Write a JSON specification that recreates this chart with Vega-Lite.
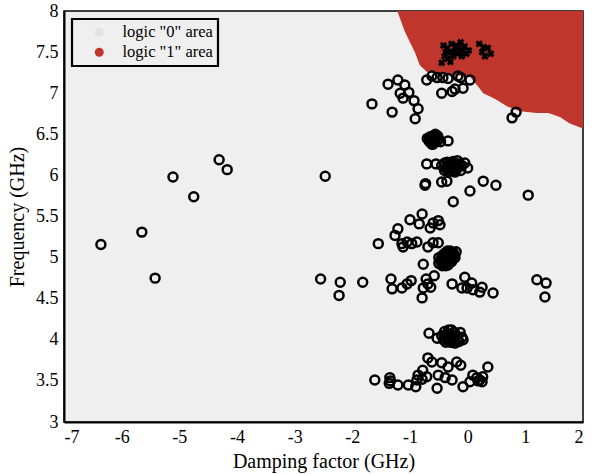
{
  "$schema": "https://vega.github.io/schema/vega-lite/v6.json",
  "autosize": {"type": "none"},
  "padding": {"left": 64, "top": 11, "right": 10, "bottom": 52},
  "width": 519,
  "height": 411,
  "background": "white",
  "config": {
    "font": "Liberation Serif",
    "view": {"fill": "#efefef", "stroke": "black", "strokeWidth": 1.5},
    "axis": {"labelFont": "Liberation Serif", "titleFont": "Liberation Serif", "labelFontSize": 18, "titleFontSize": 20, "titleFontWeight": "normal", "labelColor": "black", "titleColor": "black", "domainColor": "black", "domainWidth": 2, "ticks": false, "grid": false, "labelPadding": 6},
    "legend": {"labelFont": "Liberation Serif", "labelFontSize": 16.5, "labelColor": "black", "strokeWidth": 2.2}
  },
  "datasets": {
    "reg": [
      {"x": -1.22, "y": 8.0}, {"x": -1.09, "y": 7.75}, {"x": -0.91, "y": 7.49}, {"x": -0.83, "y": 7.34},
      {"x": -0.71, "y": 7.26}, {"x": 0.04, "y": 7.2}, {"x": 0.18, "y": 7.08}, {"x": 0.27, "y": 7.0},
      {"x": 0.39, "y": 6.96}, {"x": 0.5, "y": 6.92}, {"x": 0.68, "y": 6.84}, {"x": 0.91, "y": 6.78},
      {"x": 1.2, "y": 6.76}, {"x": 1.4, "y": 6.76}, {"x": 1.6, "y": 6.71}, {"x": 1.77, "y": 6.63}, {"x": 2.0, "y": 6.57}
    ],
    "pts": [
      {"x": -6.36, "y": 5.16}, {"x": -5.65, "y": 5.31}, {"x": -5.42, "y": 4.75}, {"x": -5.11, "y": 5.98},
      {"x": -4.75, "y": 5.74}, {"x": -4.31, "y": 6.19}, {"x": -4.17, "y": 6.07}, {"x": -2.47, "y": 5.99},
      {"x": -2.55, "y": 4.74}, {"x": -2.21, "y": 4.7}, {"x": -2.23, "y": 4.54}, {"x": -1.82, "y": 4.7},
      {"x": -1.33, "y": 4.74}, {"x": -1.31, "y": 4.62}, {"x": -1.14, "y": 4.63}, {"x": -1.05, "y": 4.68},
      {"x": -0.98, "y": 4.72}, {"x": -0.77, "y": 4.92}, {"x": -0.72, "y": 4.74}, {"x": -0.69, "y": 4.68},
      {"x": -0.77, "y": 4.63}, {"x": -0.79, "y": 4.51}, {"x": -0.64, "y": 4.64}, {"x": -0.58, "y": 4.78},
      {"x": -0.27, "y": 4.68}, {"x": -0.05, "y": 4.76}, {"x": -0.1, "y": 4.63}, {"x": -0.01, "y": 4.63},
      {"x": 0.07, "y": 4.69}, {"x": 0.09, "y": 4.61}, {"x": 0.21, "y": 4.58}, {"x": 0.25, "y": 4.64},
      {"x": 0.44, "y": 4.57}, {"x": 1.2, "y": 4.73}, {"x": 1.36, "y": 4.69}, {"x": 1.34, "y": 4.52},
      {"x": -0.25, "y": 5.68}, {"x": -0.79, "y": 5.53}, {"x": -1.0, "y": 5.46}, {"x": -0.84, "y": 5.41},
      {"x": -1.21, "y": 5.35}, {"x": -1.26, "y": 5.27}, {"x": -1.55, "y": 5.17}, {"x": -1.14, "y": 5.17},
      {"x": -1.05, "y": 5.19}, {"x": -0.97, "y": 5.17}, {"x": -0.88, "y": 5.19}, {"x": -1.12, "y": 5.13},
      {"x": -0.65, "y": 5.36}, {"x": -0.6, "y": 5.42}, {"x": -0.51, "y": 5.45}, {"x": -0.48, "y": 5.4},
      {"x": -0.69, "y": 5.13}, {"x": -0.6, "y": 5.18}, {"x": -0.51, "y": 5.18},
      {"x": -0.5, "y": 4.93}, {"x": -0.5, "y": 5.0}, {"x": -0.45, "y": 5.0}, {"x": -0.4, "y": 5.05}, {"x": -0.35, "y": 4.97},
      {"x": -0.3, "y": 5.02}, {"x": -0.25, "y": 5.06}, {"x": -0.42, "y": 4.92}, {"x": -0.28, "y": 4.95},
      {"x": -0.35, "y": 5.08}, {"x": -0.22, "y": 5.0}, {"x": -0.3, "y": 5.08}, {"x": -0.2, "y": 5.07},
      {"x": -0.38, "y": 4.9}, {"x": -0.45, "y": 4.95}, {"x": -0.33, "y": 5.02}, {"x": -0.4, "y": 4.98},
      {"x": -0.47, "y": 4.96}, {"x": -0.43, "y": 5.03}, {"x": -0.37, "y": 5.0}, {"x": -0.32, "y": 4.94},
      {"x": -0.27, "y": 4.99}, {"x": -0.24, "y": 5.03}, {"x": -0.38, "y": 5.06}, {"x": -0.44, "y": 4.9},
      {"x": -0.34, "y": 4.91}, {"x": -0.29, "y": 5.05}, {"x": -0.41, "y": 4.94}, {"x": -0.36, "y": 5.04},
      {"x": -0.7, "y": 6.45}, {"x": -0.65, "y": 6.47}, {"x": -0.6, "y": 6.43}, {"x": -0.55, "y": 6.46},
      {"x": -0.62, "y": 6.38}, {"x": -0.57, "y": 6.4}, {"x": -0.5, "y": 6.44}, {"x": -0.34, "y": 6.42},
      {"x": -0.66, "y": 6.41}, {"x": -0.6, "y": 6.48}, {"x": -0.52, "y": 6.48}, {"x": -0.47, "y": 6.41},
      {"x": -0.68, "y": 6.43}, {"x": -0.63, "y": 6.45}, {"x": -0.58, "y": 6.44}, {"x": -0.6, "y": 6.38},
      {"x": -0.53, "y": 6.42}, {"x": -0.64, "y": 6.4}, {"x": -0.56, "y": 6.5},
      {"x": -0.45, "y": 6.12}, {"x": -0.4, "y": 6.15}, {"x": -0.35, "y": 6.1}, {"x": -0.3, "y": 6.13},
      {"x": -0.25, "y": 6.17}, {"x": -0.2, "y": 6.1}, {"x": -0.15, "y": 6.14}, {"x": -0.1, "y": 6.12},
      {"x": -0.3, "y": 6.05}, {"x": -0.22, "y": 6.04}, {"x": -0.12, "y": 6.06}, {"x": -0.05, "y": 6.15},
      {"x": 0.0, "y": 6.09}, {"x": -0.71, "y": 6.14}, {"x": -0.55, "y": 6.14}, {"x": -0.4, "y": 6.06},
      {"x": -0.25, "y": 6.1}, {"x": -0.18, "y": 6.18}, {"x": -0.35, "y": 6.16}, {"x": -0.28, "y": 6.08},
      {"x": -0.32, "y": 6.14}, {"x": -0.27, "y": 6.12}, {"x": -0.22, "y": 6.14}, {"x": -0.17, "y": 6.09},
      {"x": -0.24, "y": 6.06}, {"x": -0.37, "y": 6.08},
      {"x": -0.74, "y": 5.88}, {"x": -0.73, "y": 5.9}, {"x": -0.45, "y": 5.92}, {"x": -0.36, "y": 5.93},
      {"x": 0.04, "y": 5.81}, {"x": 0.27, "y": 5.93}, {"x": 0.49, "y": 5.88}, {"x": 1.05, "y": 5.76},
      {"x": -1.38, "y": 7.11}, {"x": -1.21, "y": 7.16}, {"x": -1.09, "y": 7.1}, {"x": -1.17, "y": 7.0},
      {"x": -1.02, "y": 7.01}, {"x": -1.12, "y": 6.94}, {"x": -0.93, "y": 6.91}, {"x": -1.66, "y": 6.87},
      {"x": -1.31, "y": 6.77}, {"x": -0.86, "y": 6.81}, {"x": -0.91, "y": 6.69},
      {"x": -0.71, "y": 7.16}, {"x": -0.62, "y": 7.21}, {"x": -0.53, "y": 7.19}, {"x": -0.43, "y": 7.19},
      {"x": -0.34, "y": 7.18}, {"x": -0.17, "y": 7.21}, {"x": -0.12, "y": 7.19}, {"x": 0.04, "y": 7.16},
      {"x": -0.45, "y": 7.0}, {"x": -0.27, "y": 7.02}, {"x": -0.22, "y": 7.05}, {"x": -0.08, "y": 7.06},
      {"x": 0.77, "y": 6.7}, {"x": 0.84, "y": 6.77},
      {"x": -0.45, "y": 4.05}, {"x": -0.4, "y": 4.1}, {"x": -0.35, "y": 4.02}, {"x": -0.3, "y": 4.07},
      {"x": -0.25, "y": 4.0}, {"x": -0.2, "y": 4.05}, {"x": -0.15, "y": 3.98}, {"x": -0.38, "y": 3.97},
      {"x": -0.28, "y": 4.12}, {"x": -0.1, "y": 4.03}, {"x": -0.67, "y": 4.08}, {"x": -0.53, "y": 4.02},
      {"x": -0.13, "y": 4.09}, {"x": -0.08, "y": 4.0}, {"x": -0.33, "y": 4.12}, {"x": -0.3, "y": 3.97},
      {"x": -0.22, "y": 3.96}, {"x": -0.42, "y": 4.0}, {"x": -0.36, "y": 4.07}, {"x": -0.32, "y": 4.03},
      {"x": -0.27, "y": 4.04}, {"x": -0.23, "y": 4.09}, {"x": -0.18, "y": 4.01}, {"x": -0.4, "y": 4.04},
      {"x": -0.34, "y": 3.99}, {"x": -0.26, "y": 3.98},
      {"x": -1.61, "y": 3.51}, {"x": -1.35, "y": 3.54}, {"x": -1.36, "y": 3.47}, {"x": -1.21, "y": 3.45},
      {"x": -1.03, "y": 3.45}, {"x": -0.9, "y": 3.43}, {"x": -0.86, "y": 3.57}, {"x": -0.78, "y": 3.63},
      {"x": -0.69, "y": 3.78}, {"x": -0.71, "y": 3.55}, {"x": -0.62, "y": 3.73}, {"x": -0.53, "y": 3.41},
      {"x": -0.51, "y": 3.57}, {"x": -0.45, "y": 3.72}, {"x": -0.39, "y": 3.54}, {"x": -0.34, "y": 3.67},
      {"x": -0.27, "y": 3.51}, {"x": -0.19, "y": 3.73}, {"x": -0.12, "y": 3.69}, {"x": -0.08, "y": 3.43},
      {"x": 0.04, "y": 3.49}, {"x": 0.09, "y": 3.57}, {"x": 0.16, "y": 3.54}, {"x": 0.21, "y": 3.51},
      {"x": 0.26, "y": 3.55}, {"x": 0.25, "y": 3.49}, {"x": 0.35, "y": 3.67}, {"x": -0.88, "y": 3.51},
      {"x": -0.79, "y": 3.52}, {"x": 0.18, "y": 3.5}, {"x": -1.34, "y": 3.5}
    ],
    "crs": [
      {"x": -0.45, "y": 7.37}, {"x": -0.4, "y": 7.45}, {"x": -0.35, "y": 7.55}, {"x": -0.3, "y": 7.5},
      {"x": -0.28, "y": 7.6}, {"x": -0.25, "y": 7.45}, {"x": -0.22, "y": 7.52}, {"x": -0.2, "y": 7.58},
      {"x": -0.18, "y": 7.48}, {"x": -0.15, "y": 7.55}, {"x": -0.12, "y": 7.62}, {"x": -0.1, "y": 7.45},
      {"x": -0.08, "y": 7.52}, {"x": -0.35, "y": 7.42}, {"x": -0.42, "y": 7.58}, {"x": -0.05, "y": 7.57},
      {"x": -0.02, "y": 7.48}, {"x": 0.02, "y": 7.52}, {"x": 0.2, "y": 7.6}, {"x": 0.25, "y": 7.5},
      {"x": 0.3, "y": 7.45}, {"x": 0.35, "y": 7.55}, {"x": 0.4, "y": 7.48}, {"x": 0.28, "y": 7.56},
      {"x": -0.3, "y": 7.38}, {"x": -0.38, "y": 7.5}
    ]
  },
  "layer": [
    {
      "data": {"name": "reg"},
      "transform": [{"calculate": "'logic \"1\" area'", "as": "cat"}],
      "mark": {"type": "area", "clip": true, "opacity": 1},
      "encoding": {
        "x": {"field": "x", "type": "quantitative", "scale": {"domain": [-7, 2], "nice": false, "zero": false},
              "axis": {"title": "Damping factor (GHz)", "values": [-7,-6,-5,-4,-3,-2,-1,0,1,2], "labelExpr": "'' + datum.value", "titlePadding": 5}},
        "y": {"field": "y", "type": "quantitative", "scale": {"domain": [3, 8], "nice": false, "zero": false},
              "axis": {"title": "Frequency (GHz)", "values": [3,3.5,4,4.5,5,5.5,6,6.5,7,7.5,8], "labelExpr": "'' + datum.value", "titlePadding": 8}},
        "y2": {"datum": 8},
        "color": {"field": "cat", "type": "nominal",
                  "scale": {"domain": ["logic \"0\" area", "logic \"1\" area"], "range": ["#e2e2e2", "#c0362c"]},
                  "legend": {"title": null, "orient": "top-left", "offset": 8, "symbolType": "circle", "symbolSize": 80,
                             "strokeColor": "black", "padding": 5, "symbolOffset": 14, "labelOffset": 15, "rowPadding": 3, "fillColor": "#efefef",
                             "encode": {"legend": {"update": {"strokeWidth": {"value": 2.2}, "stroke": {"value": "black"}}}}}}
      }
    },
    {
      "data": {"name": "pts"},
      "mark": {"type": "point", "shape": "circle", "filled": false, "stroke": "black", "strokeWidth": 2.5, "size": 80, "opacity": 1},
      "encoding": {
        "x": {"field": "x", "type": "quantitative"},
        "y": {"field": "y", "type": "quantitative"}
      }
    },
    {
      "data": {"name": "crs"},
      "mark": {"type": "point", "shape": "cross", "angle": 45, "filled": true, "color": "black", "size": 55, "opacity": 1},
      "encoding": {
        "x": {"field": "x", "type": "quantitative"},
        "y": {"field": "y", "type": "quantitative"}
      }
    }
  ]
}
